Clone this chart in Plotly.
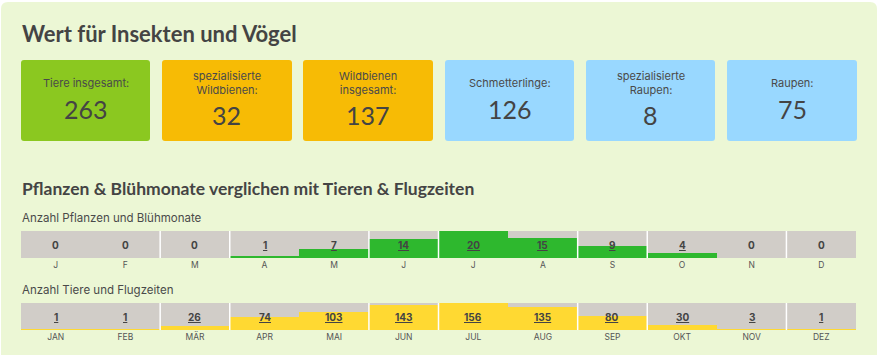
import plotly.graph_objects as go

# ---------------- data ----------------
months_short = ["J", "F", "M", "A", "M", "J", "J", "A", "S", "O", "N", "D"]
months_long = ["JAN", "FEB", "MÄR", "APR", "MAI", "JUN", "JUL", "AUG", "SEP", "OKT", "NOV", "DEZ"]
pflanzen = [0, 0, 0, 1, 7, 14, 20, 15, 9, 4, 0, 0]
tiere = [1, 1, 26, 74, 103, 143, 156, 135, 80, 30, 3, 1]

card_labels = ["Tiere insgesamt:", "spezialisierte<br>Wildbienen:", "Wildbienen<br>insgesamt:",
               "Schmetterlinge:", "spezialisierte<br>Raupen:", "Raupen:"]
card_values = [263, 32, 137, 126, 8, 75]

title_text = "Wert für Insekten und Vögel"
subtitle_text = "Pflanzen & Blühmonate verglichen mit Tieren & Flugzeiten"
row1_label = "Anzahl Pflanzen und Blühmonate"
row2_label = "Anzahl Tiere und Flugzeiten"

# ---------------- styles ----------------
W, H = 880, 355
PANEL = "#ECF7D5"
GRAY = "#D1CDC8"
GREEN = "#2EB82E"
YELLOW = "#FFD932"
TXT = "#444444"
card_colors = ["#8BC820", "#F7BB05", "#F7BB05", "#99D8FF", "#99D8FF", "#99D8FF"]
card_x = [(21, 150), (162, 292), (303, 433), (445, 574), (586, 715), (727, 857)]
card_y = (60, 141)
sep_after = [2, 3, 5, 6, 8, 9, 11]  # white separators between month cells

PX0, PX1 = 21, 856
ROW1 = (231, 258)
ROW2 = (303, 330)


def px(x):
    return x / W


def py(y):
    return 1 - y / H


def rrect(x0, y0, x1, y1, r):
    """rounded rect path in paper coords from pixel coords"""
    pts = [
        f"M {px(x0 + r)},{py(y0)}",
        f"L {px(x1 - r)},{py(y0)}",
        f"Q {px(x1)},{py(y0)} {px(x1)},{py(y0 + r)}",
        f"L {px(x1)},{py(y1 - r)}",
        f"Q {px(x1)},{py(y1)} {px(x1 - r)},{py(y1)}",
        f"L {px(x0 + r)},{py(y1)}",
        f"Q {px(x0)},{py(y1)} {px(x0)},{py(y1 - r)}",
        f"L {px(x0)},{py(y0 + r)}",
        f"Q {px(x0)},{py(y0)} {px(x0 + r)},{py(y0)}",
        "Z",
    ]
    return " ".join(pts)


fig = go.Figure()

xs = list(range(12))
rows = [
    (pflanzen, months_short, GREEN, "x", "y"),
    (tiere, months_long, YELLOW, "x2", "y2"),
]
for vals, labels, col, xa, ya in rows:
    mx = max(vals)
    fig.add_trace(go.Bar(x=xs, y=[mx] * 12, marker=dict(color=GRAY, line=dict(width=0)),
                         width=1, xaxis=xa, yaxis=ya, hoverinfo="skip", showlegend=False))
    fig.add_trace(go.Bar(x=xs, y=vals, marker=dict(color=col, line=dict(width=0)),
                         width=1, xaxis=xa, yaxis=ya, showlegend=False,
                         hovertemplate="%{y}<extra></extra>"))

shapes = []
annotations = []

# panel
shapes.append(dict(type="path", path=rrect(1, 2, 877, 370, 7), xref="paper", yref="paper",
                   fillcolor=PANEL, line=dict(width=0), layer="below"))

# cards
for (x0, x1), col, lab, val in zip(card_x, card_colors, card_labels, card_values):
    shapes.append(dict(type="path", path=rrect(x0, card_y[0], x1, card_y[1], 3), xref="paper",
                       yref="paper", fillcolor=col, line=dict(width=0), layer="below"))
    cx = (x0 + x1) / 2
    two = "<br>" in lab
    annotations.append(dict(x=px(cx), y=py(82.5), xref="paper", yref="paper",
                            text=lab, showarrow=False, xanchor="center", yanchor="middle",
                            font=dict(family="Inter", size=11, color="#4A4A4A")))
    annotations.append(dict(x=px(cx), y=py(109 if not two else 115), xref="paper", yref="paper",
                            text=str(val), showarrow=False, xanchor="center", yanchor="middle",
                            font=dict(family="Lato", size=25, color=TXT)))

# titles
annotations.append(dict(x=px(20), y=py(34), xref="paper", yref="paper", text=f"<b>{title_text}</b>",
                        showarrow=False, xanchor="left", yanchor="middle",
                        font=dict(family="Lato", size=22, color=TXT)))
annotations.append(dict(x=px(20), y=py(188), xref="paper", yref="paper", text=f"<b>{subtitle_text}</b>",
                        showarrow=False, xanchor="left", yanchor="middle",
                        font=dict(family="Lato", size=17.5, color=TXT)))
for lab, yc in [(row1_label, 218), (row2_label, 290)]:
    annotations.append(dict(x=px(20), y=py(yc), xref="paper", yref="paper", text=lab,
                            showarrow=False, xanchor="left", yanchor="middle",
                            font=dict(family="Inter", size=11.5, color="#4A4A4A")))

# value labels + separators
for vals, labels, col, xa, ya in rows:
    mx = max(vals)
    for i, v in enumerate(vals):
        annotations.append(dict(x=i, y=mx / 2, xref=xa, yref=ya, text=f"<b>{v}</b>", showarrow=False,
                                xanchor="center", yanchor="middle",
                                font=dict(family="Inter", size=10, color=TXT,
                                          lineposition="under" if v else "none")))
    for k in sep_after:
        shapes.append(dict(type="line", x0=k - 0.5, x1=k - 0.5, y0=0, y1=mx, xref=xa, yref=ya,
                           line=dict(color="white", width=1.5), layer="above"))

axis_common = dict(range=[-0.5, 11.5], showgrid=False, zeroline=False, ticks="",
                   tickfont=dict(family="Inter", size=8.5, color="#555555"), tickmode="array",
                   tickvals=xs, showline=False, fixedrange=True)
yaxis_common = dict(showgrid=False, zeroline=False, showticklabels=False, ticks="", fixedrange=True)

fig.update_layout(
    width=W, height=H,
    margin=dict(l=0, r=0, t=0, b=0),
    paper_bgcolor="white",
    plot_bgcolor="rgba(0,0,0,0)",
    barmode="overlay",
    bargap=0,
    xaxis=dict(domain=[px(PX0), px(PX1)], anchor="y", ticktext=months_short, **axis_common),
    yaxis=dict(domain=[py(ROW1[1]), py(ROW1[0])], anchor="x", range=[0, max(pflanzen)], **yaxis_common),
    xaxis2=dict(domain=[px(PX0), px(PX1)], anchor="y2", ticktext=months_long, **axis_common),
    yaxis2=dict(domain=[py(ROW2[1]), py(ROW2[0])], anchor="x2", range=[0, max(tiere)], **yaxis_common),
    shapes=shapes,
    annotations=annotations,
    hovermode="closest",
)

fig.write_html("out.html", config={"displayModeBar": False},
               post_script="document.body.style.margin='0';document.body.style.overflow='hidden';")
